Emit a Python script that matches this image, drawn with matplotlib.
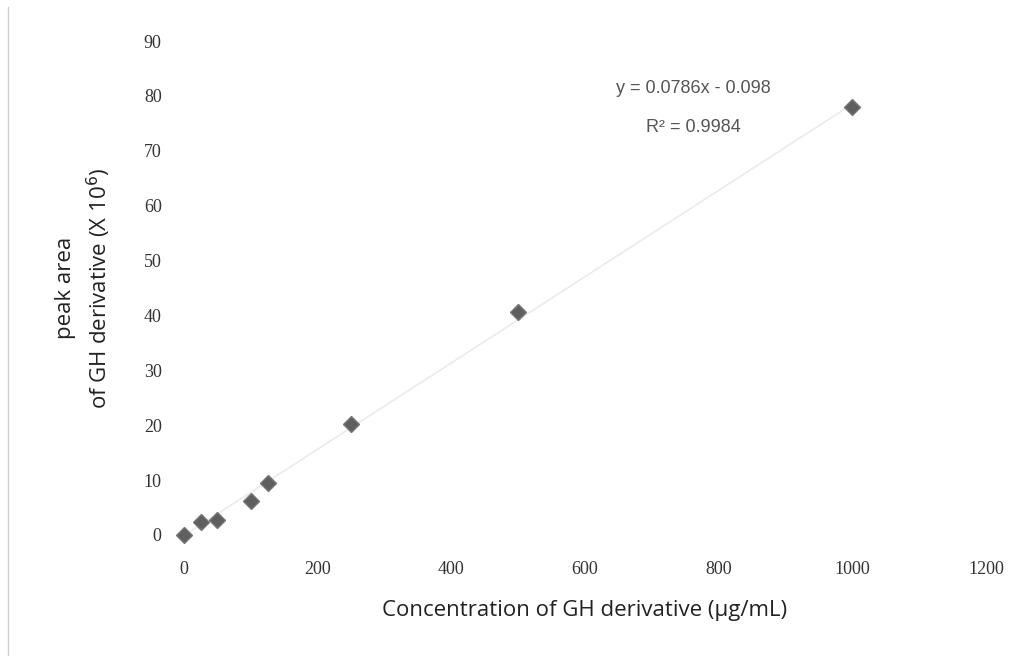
import numpy as np
import matplotlib
matplotlib.use("Agg")
from matplotlib import pyplot as plt
from matplotlib.lines import Line2D

# concentration (ug/mL) and peak area (x10^6)
concentration = [0, 25, 50, 100, 125, 250, 500, 1000]
peak_area = [0.0, 2.3, 2.8, 6.1, 9.4, 20.3, 40.6, 78.0]

x_ticks = [0, 200, 400, 600, 800, 1000, 1200]
y_ticks = [0, 10, 20, 30, 40, 50, 60, 70, 80, 90]

SLOPE = 0.0786
INTERCEPT = -0.098
R2 = 0.9984

TICK_COLOR = "#333333"
MARKER_COLOR = "#5f5f5f"

fig = plt.figure(figsize=(10.26, 6.56), dpi=100)
ax = fig.add_axes([0.1793, 0.1845, 0.7817, 0.753])

# trendline
fit_x = np.array([0, max(concentration)])
ax.plot(fit_x, SLOPE * fit_x + INTERCEPT, color="#ebebeb", linewidth=1.2, zorder=1)

ax.plot(concentration, peak_area, linestyle="none", marker="D", markersize=8,
        color=MARKER_COLOR, markeredgecolor="#777777", clip_on=False, zorder=3)

ax.set_xlim(0, 1200)
ax.set_ylim(0, 90)
ax.set_xticks(x_ticks)
ax.set_yticks(y_ticks)
for side in ["top", "right", "bottom", "left"]:
    ax.spines[side].set_visible(False)
ax.tick_params(axis="both", length=0, labelsize=13, labelcolor=TICK_COLOR)
ax.tick_params(axis="x", pad=18.5)
ax.tick_params(axis="y", pad=16)
for lbl in ax.get_xticklabels() + ax.get_yticklabels():
    lbl.set_family("Liberation Serif")

ax.set_xlabel("Concentration of GH derivative (µg/mL)", fontsize=16,
              family="Open Sans", color="#222222", labelpad=16)
ax.set_ylabel("peak area\nof GH derivative (X 10$^{6}$)", fontsize=16,
              family="Open Sans", color="#222222", labelpad=22, linespacing=1.4)

ax.text(762, 81.4, "y = {}x - {}".format(SLOPE, abs(INTERCEPT)), ha="center", va="center",
        fontsize=13, family="Liberation Sans", color="#555555")
ax.text(762, 74.3, "R² = {}".format(R2), ha="center", va="center",
        fontsize=13, family="Liberation Sans", color="#555555")

# faint scan border on the left
fig.add_artist(Line2D([0.008, 0.008], [0.0, 0.99], color="#cfcfcf", linewidth=1,
                      transform=fig.transFigure))

fig.savefig("out.png", dpi=100)
